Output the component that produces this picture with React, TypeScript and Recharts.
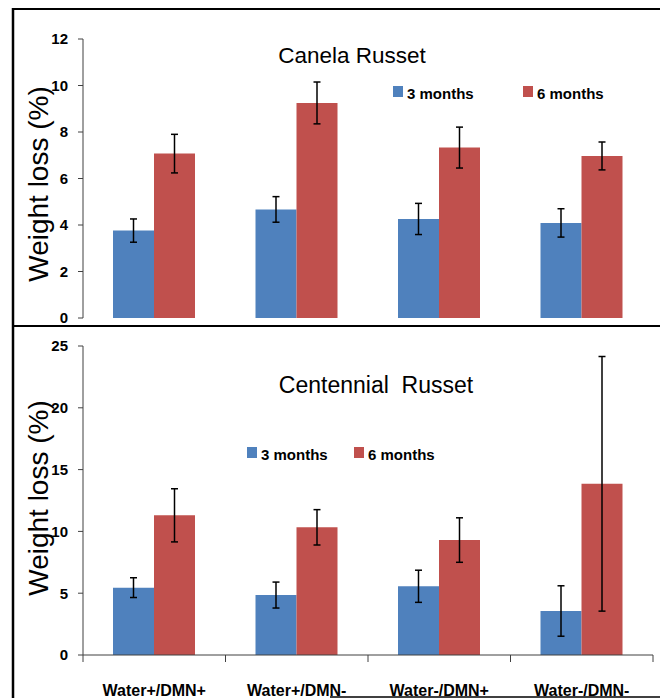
import React from 'react';
import { BarChart, Bar, XAxis, YAxis, ErrorBar, Legend } from 'recharts';

const categories = ['Water+/DMN+', 'Water+/DMN-', 'Water-/DMN+', 'Water-/DMN-'];
const seriesNames = ['3 months', '6 months'];
const seriesColors = ['#4F81BD', '#C0504D'];

const canela3 = [3.76, 4.67, 4.26, 4.09];
const canela3Err = [0.5, 0.55, 0.67, 0.61];
const canela6 = [7.07, 9.25, 7.33, 6.97];
const canela6Err = [0.83, 0.9, 0.88, 0.6];

const cent3 = [5.45, 4.85, 5.56, 3.56];
const cent3Err = [0.8, 1.05, 1.3, 2.04];
const cent6 = [11.3, 10.33, 9.3, 13.85];
const cent6Err = [2.15, 1.43, 1.8, 10.3];

const canelaTicks = [0, 2, 4, 6, 8, 10, 12];
const centTicks = [0, 5, 10, 15, 20, 25];

const titles = ['Canela Russet', 'Centennial  Russet'];
const yLabel = 'Weight loss (%)';

const canelaData = categories.map((name, i) => ({
  name,
  m3: canela3[i],
  e3: canela3Err[i],
  m6: canela6[i],
  e6: canela6Err[i],
}));
const centData = categories.map((name, i) => ({
  name,
  m3: cent3[i],
  e3: cent3Err[i],
  m6: cent6[i],
  e6: cent6Err[i],
}));

const FONT = '"Liberation Sans", Arial, sans-serif';
const W = 660;
const Y_AXIS_W = 83;
const RIGHT = 7;
const BAND = (W - Y_AXIS_W - RIGHT) / categories.length;
const AXIS_COLOR = '#404040';

const tickStyle = { fontFamily: FONT, fontSize: 15, fontWeight: 700, fill: '#000' };

const makeLegend = (offsets: number[]) => (props: any) => {
  const payload = props.payload || [];
  return (
    <div style={{ position: 'relative', height: 16, fontFamily: FONT }}>
      {payload.map((p: any, i: number) => (
        <div
          key={i}
          style={{ position: 'absolute', left: offsets[i], top: 0, display: 'flex', alignItems: 'flex-start', whiteSpace: 'nowrap' }}
        >
          <div style={{ width: 10, height: 11, background: p.color, marginRight: 4 }} />
          <div style={{ fontSize: 15, lineHeight: '15px', fontWeight: 700, color: '#000' }}>{p.value}</div>
        </div>
      ))}
    </div>
  );
};

const CategoryTick = (props: any) => {
  const { x, y, payload, index } = props;
  const left = x - BAND / 2;
  const right = x + BAND / 2;
  return (
    <g>
      <line x1={left} y1={y} x2={left} y2={y + 7} stroke={AXIS_COLOR} strokeWidth={1} />
      {index === categories.length - 1 && (
        <line x1={right} y1={y} x2={right} y2={y + 7} stroke={AXIS_COLOR} strokeWidth={1} />
      )}
      <text x={x} y={y + 41} textAnchor="middle" fontFamily={FONT} fontSize={16} fontWeight={700} fill="#000">
        {payload.value}
      </text>
    </g>
  );
};

function Series() {
  return null;
}

export default function App() {
  return (
    <div style={{ position: 'absolute', left: 0, top: 0, width: 660, height: 698, background: '#fff', overflow: 'hidden' }}>
      {/* Top panel */}
      <div style={{ position: 'absolute', left: 0, top: 0 }}>
        <BarChart
          width={W}
          height={326}
          data={canelaData}
          margin={{ top: 39, right: RIGHT, bottom: 8, left: 0 }}
          barGap={0}
        >
          <XAxis dataKey="name" hide />
          <YAxis
            width={Y_AXIS_W}
            domain={[0, 12]}
            ticks={canelaTicks}
            interval={0}
            tickSize={5}
            tickMargin={10}
            tick={tickStyle}
            axisLine={{ stroke: AXIS_COLOR }}
            tickLine={{ stroke: AXIS_COLOR }}
          />
          <Legend
            layout="horizontal"
            verticalAlign="middle"
            align="center"
            content={makeLegend([0, 130])}
            wrapperStyle={{ position: 'absolute', left: 393, top: 86, width: 260, height: 16 }}
          />
          <Bar dataKey="m3" name={seriesNames[0]} fill={seriesColors[0]} barSize={41} isAnimationActive={false}>
            <ErrorBar dataKey="e3" width={3.5} stroke="#000" strokeWidth={1.5} direction="y" />
          </Bar>
          <Bar dataKey="m6" name={seriesNames[1]} fill={seriesColors[1]} barSize={41} isAnimationActive={false}>
            <ErrorBar dataKey="e6" width={3.5} stroke="#000" strokeWidth={1.5} direction="y" />
          </Bar>
        </BarChart>
      </div>

      {/* Bottom panel */}
      <div style={{ position: 'absolute', left: 0, top: 326 }}>
        <BarChart
          width={W}
          height={372}
          data={centData}
          margin={{ top: 20, right: RIGHT, bottom: 0, left: 0 }}
          barGap={0}
        >
          <XAxis
            dataKey="name"
            height={43}
            interval={0}
            tickLine={false}
            tickSize={0}
            tickMargin={0}
            axisLine={{ stroke: AXIS_COLOR }}
            tick={<CategoryTick />}
          />
          <YAxis
            width={Y_AXIS_W}
            domain={[0, 25]}
            ticks={centTicks}
            interval={0}
            tickSize={5}
            tickMargin={10}
            tick={tickStyle}
            axisLine={{ stroke: AXIS_COLOR }}
            tickLine={{ stroke: AXIS_COLOR }}
          />
          <Legend
            layout="horizontal"
            verticalAlign="middle"
            align="center"
            content={makeLegend([0, 107])}
            wrapperStyle={{ position: 'absolute', left: 247, top: 121, width: 260, height: 16 }}
          />
          <Bar dataKey="m3" name={seriesNames[0]} fill={seriesColors[0]} barSize={41} isAnimationActive={false}>
            <ErrorBar dataKey="e3" width={3.5} stroke="#000" strokeWidth={1.5} direction="y" />
          </Bar>
          <Bar dataKey="m6" name={seriesNames[1]} fill={seriesColors[1]} barSize={41} isAnimationActive={false}>
            <ErrorBar dataKey="e6" width={3.5} stroke="#000" strokeWidth={1.5} direction="y" />
          </Bar>
        </BarChart>
      </div>

      {/* Frame, titles and axis labels */}
      <svg
        width={660}
        height={698}
        style={{ position: 'absolute', left: 0, top: 0, pointerEvents: 'none' }}
      >
        <line x1={13} y1={9} x2={660} y2={9} stroke="#000" strokeWidth={2} />
        <line x1={13} y1={8} x2={13} y2={698} stroke="#000" strokeWidth={2.5} />
        <line x1={13} y1={326} x2={660} y2={326} stroke="#000" strokeWidth={2} />
        <line x1={330} y1={697} x2={660} y2={697} stroke="#000" strokeWidth={1.5} />
        <text x={352} y={63} textAnchor="middle" fontFamily={FONT} fontSize={22.5} fill="#000">
          {titles[0]}
        </text>
        <text x={376} y={393} textAnchor="middle" fontFamily={FONT} fontSize={23} fill="#000" style={{ whiteSpace: 'pre' }} xmlSpace="preserve">
          {titles[1]}
        </text>
        <text transform="translate(48,184) rotate(-90)" textAnchor="middle" fontFamily={FONT} fontSize={28} fill="#000">
          {yLabel}
        </text>
        <text transform="translate(48,498) rotate(-90)" textAnchor="middle" fontFamily={FONT} fontSize={28} fill="#000">
          {yLabel}
        </text>
      </svg>
    </div>
  );
}
